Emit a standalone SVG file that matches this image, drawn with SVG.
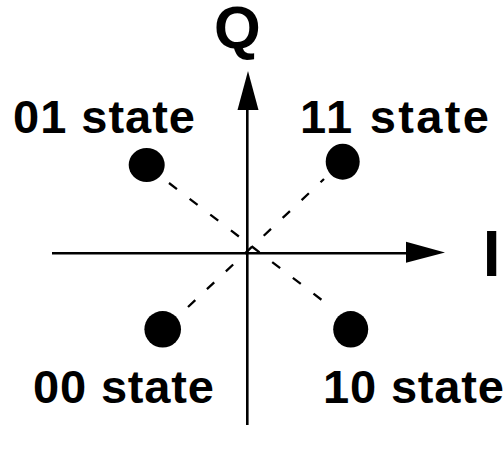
<svg xmlns="http://www.w3.org/2000/svg" width="503" height="451" viewBox="0 0 503 451">
<style>
.lbl{font-family:"Liberation Sans",Arial,sans-serif;font-weight:bold;font-size:47px;fill:#000}
.ax{font-family:"Liberation Sans",Arial,sans-serif;font-weight:bold;fill:#000}
.axis{stroke:#000;stroke-width:2.6;fill:none}
.dash{stroke:#000;stroke-width:2.3;stroke-dasharray:10 16;fill:none}
.dot{fill:#000}
</style>
<g id="connectors">
<line class="axis" x1="247.3" y1="105" x2="247.3" y2="425"/>
<polygon points="248,71 237.5,110 258.5,110" fill="#000"/>
<line class="axis" x1="52" y1="253.3" x2="410" y2="253.3"/>
<polygon points="445,252.5 406,241.7 406,262.7" fill="#000"/>
<line class="dash" x1="169" y1="183" x2="327" y2="304"/>
<line class="dash" x1="188" y1="307" x2="324" y2="179"/>
</g>
<g id="axis-Q"><text class="ax" x="214" y="48" font-size="60">Q</text></g>
<g id="axis-I"><text class="ax" x="482.7" y="275.7" font-size="64">I</text></g>
<g id="state01"><ellipse class="dot" cx="146.7" cy="165" rx="18" ry="17"/><text class="lbl" x="13" y="133" textLength="182" lengthAdjust="spacing">01 state</text></g>
<g id="state11"><ellipse class="dot" cx="342.7" cy="161.7" rx="17" ry="18"/><text class="lbl" x="300" y="133" textLength="189" lengthAdjust="spacing">11 state</text></g>
<g id="state00"><circle class="dot" cx="162.7" cy="329.3" r="18.3"/><text class="lbl" x="33" y="403" textLength="181" lengthAdjust="spacing">00 state</text></g>
<g id="state10"><ellipse class="dot" cx="350.7" cy="329.3" rx="17.5" ry="18.3"/><text class="lbl" x="323" y="403" textLength="181" lengthAdjust="spacing">10 state</text></g>
</svg>
